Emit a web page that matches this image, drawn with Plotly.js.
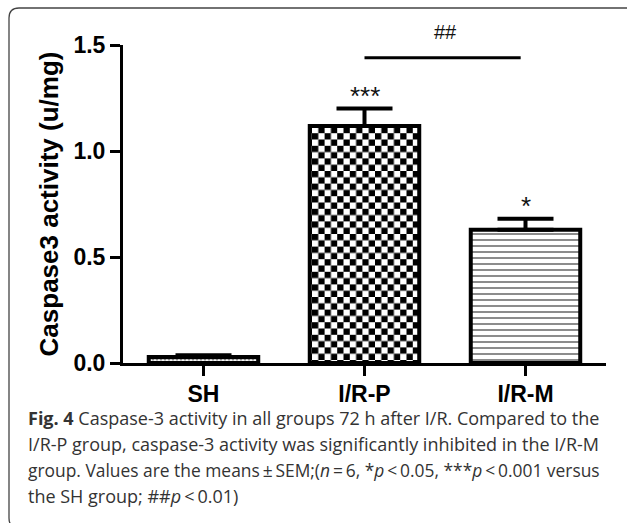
<!DOCTYPE html>
<html>
<head>
<meta charset="utf-8">
<script src="https://cdn.plot.ly/plotly-3.0.1.min.js"></script>
<style>
html,body{margin:0;padding:0;background:#fff;}
#chart{width:627px;height:523px;}
</style>
</head>
<body>
<div id="chart"></div>
<script>
// ---- data ----
var groups = ['SH', 'I/R-P', 'I/R-M'];
var means = [0.028, 1.118, 0.628];
var sems = [0.008, 0.082, 0.052];
var sigLabels = ['', '***', '*'];
var bracketLabel = '##';
var yTitle = 'Caspase3 activity (u/mg)';
var T = '\u2009';
var captionLines = [
  '<b>Fig. 4</b> Caspase-3 activity in all groups 72 h after I/R. Compared to the',
  'I/R-P group, caspase-3 activity was significantly inhibited in the I/R-M',
  'group. Values are the means' + T + '±' + T + 'SEM;(<i>n</i>' + T + '=' + T + '6, *<i>p</i>' + T + '&lt;' + T + '0.05, ***<i>p</i>' + T + '&lt;' + T + '0.001 versus',
  'the SH group; ##<i>p</i>' + T + '&lt;' + T + '0.01)'
];

// ---- geometry helpers (pixel -> paper) ----
var W = 627, H = 523;
var mL = 123, mR = 21, mT = 45, mB = 160;
var pw = W - mL - mR, ph = H - mT - mB;
function px2x(px){ return (px - mL) / pw; }
function px2y(py){ return (H - mB - py) / ph; }

var zeros = means.map(function(){ return 0; });

var trace = {
  type: 'bar',
  x: groups,
  y: means,
  width: 0.68,
  marker: {
    color: 'white',
    line: {color: 'black', width: 4},
    pattern: {
      shape: ['.', '.', '-'],
      size: [4, 9, 6],
      solidity: [0.5, 0.6, 0.3],
      fgcolor: 'black',
      bgcolor: 'white',
      fillmode: 'overlay'
    }
  },
  error_y: {
    type: 'data',
    symmetric: false,
    array: sems,
    arrayminus: zeros,
    color: 'black',
    thickness: 4,
    width: 28
  },
  hoverinfo: 'none'
};

var annotations = [];
groups.forEach(function(g, i){
  if (sigLabels[i]) {
    annotations.push({
      x: g, y: means[i] + sems[i], xref: 'x', yref: 'y',
      text: sigLabels[i], showarrow: false,
      yanchor: 'bottom', yshift: -4,
      font: {family: 'Liberation Sans', size: 26, color: '#111'}
    });
  }
});
annotations.push({
  x: 1.5, y: 1.44, xref: 'x', yref: 'y',
  text: bracketLabel, showarrow: false, yanchor: 'bottom', yshift: 13,
  font: {family: 'Liberation Sans', size: 20, color: '#111'}
});
var capY = [418, 444, 470, 496];
var capSize = [18, 18, 17.4, 18];
captionLines.forEach(function(t, i){
  annotations.push({
    x: px2x(26), y: px2y(capY[i]), xref: 'paper', yref: 'paper',
    xanchor: 'left', yanchor: 'middle', align: 'left',
    text: t, showarrow: false,
    font: {family: 'Open Sans', size: capSize[i], color: '#333'}
  });
});

// frame path with rounded corners
var fx0 = px2x(9), fx1 = px2x(645), fy0 = px2y(8), fy1 = px2y(528);
var rx = 10 / pw, ry = 10 / ph;
var framePath = 'M' + fx0 + ',' + (fy0 - ry) +
  ' Q' + fx0 + ',' + fy0 + ' ' + (fx0 + rx) + ',' + fy0 +
  ' L' + (fx1 - rx) + ',' + fy0 +
  ' Q' + fx1 + ',' + fy0 + ' ' + fx1 + ',' + (fy0 - ry) +
  ' L' + fx1 + ',' + (fy1 + ry) +
  ' Q' + fx1 + ',' + fy1 + ' ' + (fx1 - rx) + ',' + fy1 +
  ' L' + (fx0 + rx) + ',' + fy1 +
  ' Q' + fx0 + ',' + fy1 + ' ' + fx0 + ',' + (fy1 + ry) + ' Z';

var layout = {
  width: W, height: H,
  margin: {l: mL, r: mR, t: mT, b: mB, pad: 0},
  paper_bgcolor: 'white', plot_bgcolor: 'white',
  showlegend: false,
  font: {family: 'Liberation Sans', color: 'black'},
  xaxis: {
    type: 'category', range: [-0.5, 2.5],
    showline: true, linewidth: 3, linecolor: 'black',
    ticks: 'outside', ticklen: 10, tickwidth: 3, tickcolor: 'black',
    ticklabelstandoff: -2,
    tickfont: {family: 'Liberation Sans', size: 23, weight: 'bold', color: 'black'},
    showgrid: false, zeroline: false, fixedrange: true
  },
  yaxis: {
    range: [0, 1.5], tickvals: [0, 0.5, 1, 1.5], tickformat: '.1f',
    showline: true, linewidth: 3, linecolor: 'black',
    ticks: 'outside', ticklen: 10, tickwidth: 3, tickcolor: 'black',
    ticklabelstandoff: 0,
    tickfont: {family: 'Liberation Sans', size: 23, weight: 'bold', color: 'black'},
    title: {text: yTitle, standoff: 8,
            font: {family: 'Liberation Sans', size: 26, weight: 'bold', color: 'black'}},
    showgrid: false, zeroline: false, fixedrange: true
  },
  shapes: [
    {type: 'line', xref: 'x', yref: 'y', x0: 1, x1: 1.97, y0: 1.44, y1: 1.44,
     line: {color: 'black', width: 3}},
    {type: 'path', xref: 'paper', yref: 'paper', path: framePath,
     line: {color: '#444', width: 1.3}, fillcolor: 'rgba(0,0,0,0)', layer: 'below'}
  ],
  annotations: annotations
};

var gd = document.getElementById('chart');
function checkerTile() {
  // restyle the I/R-P bar's fill pattern tile as a checkerboard
  try {
    var paths = gd.querySelectorAll('.trace.bars .point path');
    var p = paths[1];
    if (!p) return;
    var fill = p.style.fill || p.getAttribute('fill') || '';
    var m = /#([^"')]+)/.exec(fill);
    if (!m) return;
    var pat = document.getElementById(m[1]);
    if (!pat) return;
    var NS = 'http://www.w3.org/2000/svg';
    var s = 6.3;
    pat.setAttribute('width', 2 * s);
    pat.setAttribute('height', 2 * s);
    while (pat.firstChild) pat.removeChild(pat.firstChild);
    var bg = document.createElementNS(NS, 'rect');
    bg.setAttribute('width', 2 * s); bg.setAttribute('height', 2 * s);
    bg.setAttribute('fill', 'white');
    pat.appendChild(bg);
    [[0, 0], [s, s]].forEach(function(o){
      var r = document.createElementNS(NS, 'rect');
      r.setAttribute('x', o[0]); r.setAttribute('y', o[1]);
      r.setAttribute('width', s); r.setAttribute('height', s);
      r.setAttribute('fill', 'black');
      pat.appendChild(r);
    });
  } catch (e) {}
}
Plotly.newPlot(gd, [trace], layout, {staticPlot: true, displayModeBar: false}).then(checkerTile);
</script>
</body>
</html>
